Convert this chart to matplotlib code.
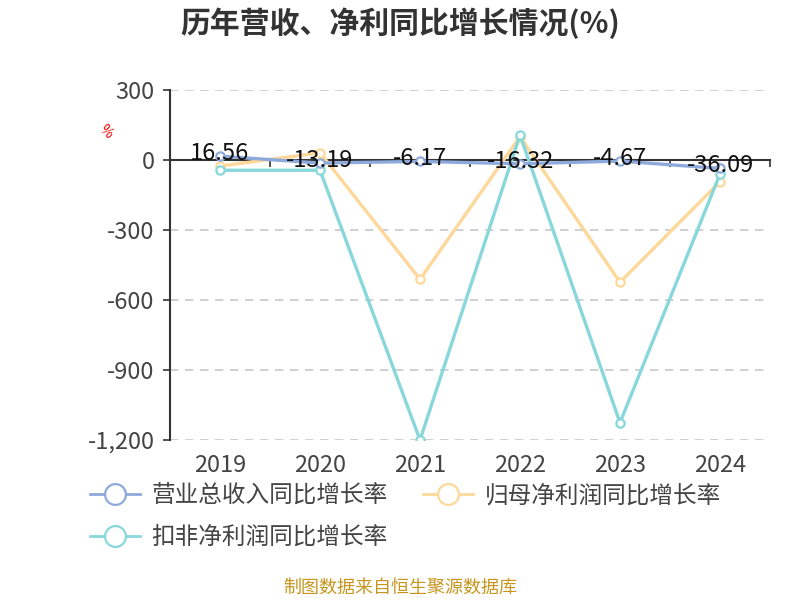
import matplotlib.pyplot as plt
from matplotlib.lines import Line2D
import matplotlib.transforms as mtransforms

plt.rcParams['font.family'] = ['Noto Sans CJK SC', 'DejaVu Sans']

# Data
years = ['2019', '2020', '2021', '2022', '2023', '2024']
revenue_growth = [16.56, -13.19, -6.17, -16.32, -4.67, -36.09]
parent_profit_growth = [-26, 31, -511, 100, -524, -93]
deducted_profit_growth = [-44, -44, -1200, 107, -1126, -60]
series_names = ['营业总收入同比增长率', '归母净利润同比增长率', '扣非净利润同比增长率']
colors = ['#8eaadc', '#fdd89a', '#88d8db']

fig = plt.figure(figsize=(8, 6), dpi=100)
ax = fig.add_axes([0.2125, 0.2667, 0.75, 0.5833])

x = list(range(len(years)))
series = [revenue_growth, parent_profit_growth, deducted_profit_growth]
zorders = [5, 3, 4]
for vals, c, z in zip(series, colors, zorders):
    ax.plot(x, vals, color=c, lw=2.4, marker='o', markersize=6,
            markerfacecolor='white', markeredgecolor=c, markeredgewidth=1.6,
            zorder=z)

# value labels for revenue
for xi, v in zip(x, revenue_growth):
    ax.annotate(f'{v:.2f}', (xi, v), xytext=(0, 2), textcoords='offset points',
                ha='center', va='center', fontsize=17, color='#111111', zorder=10)

ax.set_xlim(-0.5, len(years) - 0.5)
ax.set_ylim(-1200, 300)
yticks = [300, 0, -300, -600, -900, -1200]
ax.set_yticks(yticks)
ax.set_yticklabels([f'{t:,}' for t in yticks], fontsize=17, color='#444444')
for t in yticks:
    if t != 0:
        ax.axhline(t, color='#c8c8c8', lw=1.2, ls=(0, (5, 4)), zorder=0)

for s in ['top', 'right']:
    ax.spines[s].set_visible(False)
ax.spines['left'].set_color('#333333')
ax.spines['left'].set_linewidth(1.5)
ax.spines['bottom'].set_position(('data', 0))
ax.spines['bottom'].set_color('#333333')
ax.spines['bottom'].set_linewidth(1.5)
ax.tick_params(axis='y', length=5, width=1.2, color='#333333', pad=6)
ax.set_xticks([i - 0.5 for i in range(len(years) + 1)])
ax.set_xticklabels([])
ax.tick_params(axis='x', length=5, width=1.2, color='#333333')

trans = mtransforms.blended_transform_factory(ax.transData, ax.transAxes)
for xi, yr in zip(x, years):
    ax.text(xi, -0.072, yr, transform=trans, ha='center', va='center',
            fontsize=17, color='#444444')

fig.text(0.132, 0.78, '%', color='red', fontsize=10, rotation=-45,
         ha='center', va='center')

fig.text(0.5, 0.962, '历年营收、净利同比增长情况(%)', ha='center', va='center',
         fontsize=21.5, fontweight='bold', color='#333333')

handles = [Line2D([0], [0], color=c, lw=2, marker='o', markersize=15,
                  markerfacecolor='white', markeredgecolor=c, markeredgewidth=1.6)
           for c in colors]
order = [0, 2, 1]
fig.legend([handles[i] for i in order], [series_names[i] for i in order],
           loc='upper left', bbox_to_anchor=(0.1125, 0.193), ncol=2,
           frameon=False, fontsize=17, handlelength=2.1, handletextpad=0.5,
           columnspacing=1.5, labelspacing=0.8, labelcolor='#444444',
           borderaxespad=0, borderpad=0)

fig.text(0.5, 0.02, '制图数据来自恒生聚源数据库', ha='center', va='center',
         fontsize=13, color='#c8961e')

fig.savefig('out.png', dpi=100)
